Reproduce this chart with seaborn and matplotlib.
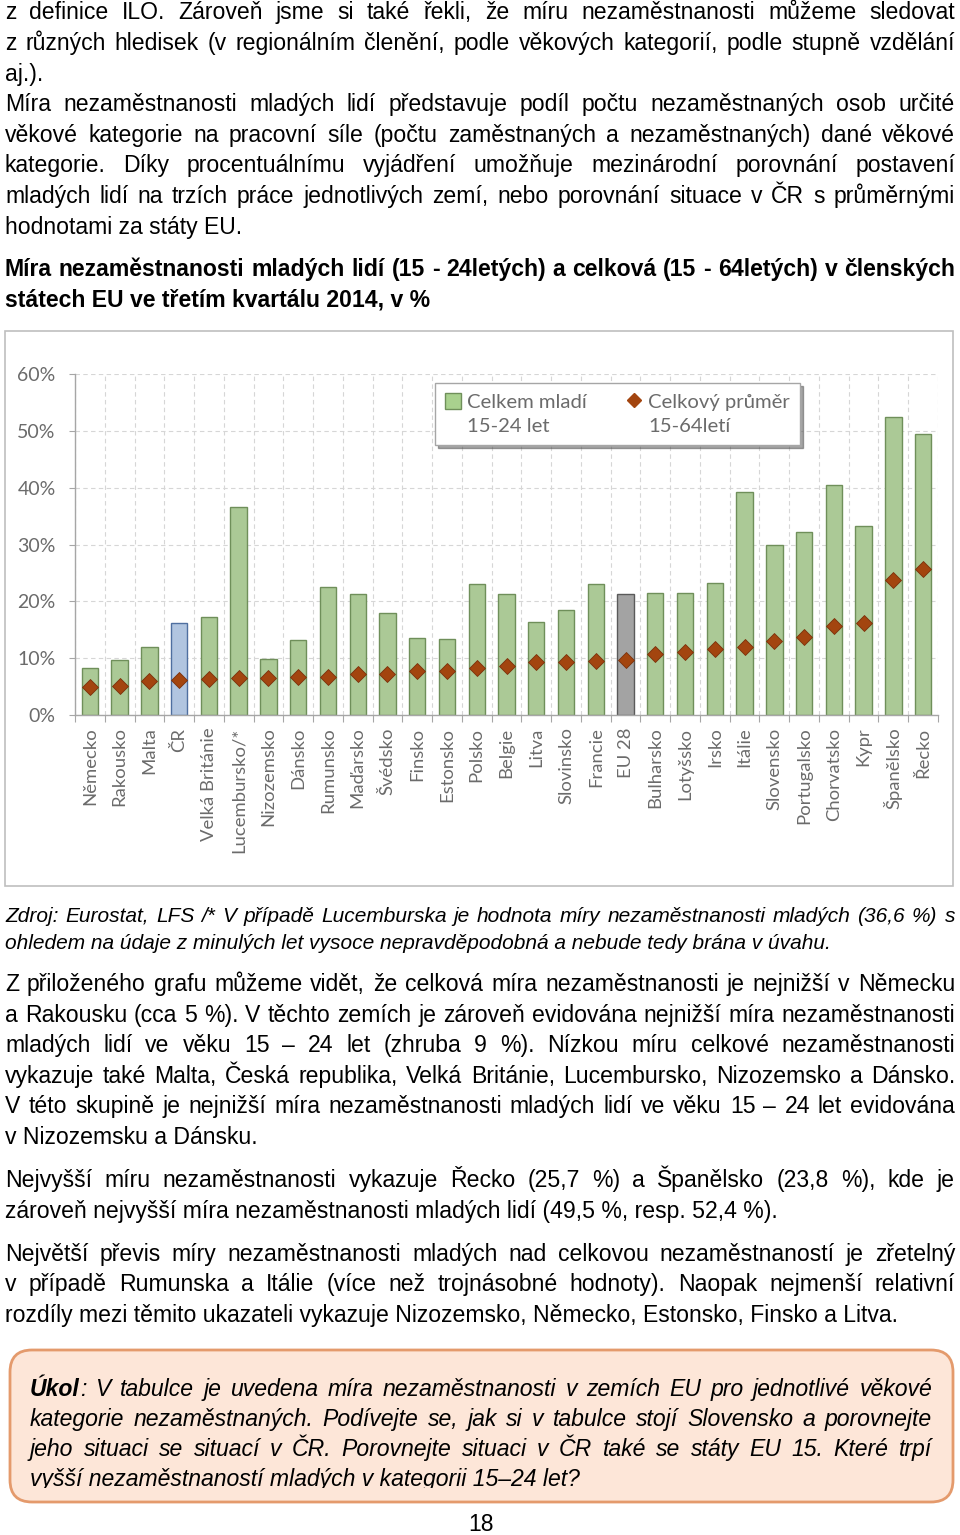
import matplotlib
matplotlib.use("Agg")
import matplotlib.pyplot as plt
import seaborn as sns
from matplotlib.patches import Patch, Rectangle, FancyBboxPatch
from matplotlib.lines import Line2D

W, H = 960, 1535

# chart data (Q3 2014, %)
countries = ["Německo", "Rakousko", "Malta", "ČR", "Velká Británie", "Lucembursko/*",
             "Nizozemsko", "Dánsko", "Rumunsko", "Maďarsko", "Švédsko", "Finsko",
             "Estonsko", "Polsko", "Belgie", "Litva", "Slovinsko", "Francie", "EU 28",
             "Bulharsko", "Lotyšsko", "Irsko", "Itálie", "Slovensko", "Portugalsko",
             "Chorvatsko", "Kypr", "Španělsko", "Řecko"]
young = [8.3, 9.6, 12.0, 16.2, 17.3, 36.6, 9.8, 13.2, 22.5, 21.3, 18.0, 13.6,
         13.4, 23.1, 21.3, 16.4, 18.4, 23.1, 21.3, 21.4, 21.4, 23.3, 39.2, 29.9,
         32.2, 40.4, 33.3, 52.4, 49.5]
overall = [4.9, 5.1, 5.9, 6.1, 6.3, 6.5, 6.5, 6.7, 6.7, 7.3, 7.3, 7.7,
           7.7, 8.3, 8.7, 9.3, 9.3, 9.5, 9.7, 10.7, 11.0, 11.6, 12.0, 13.0,
           13.8, 15.7, 16.1, 23.8, 25.7]
yticks = [0, 10, 20, 30, 40, 50, 60]
legend_main = ["Celkem mladí", "Celkový průměr"]
legend_sub = ["15-24 let", "15-64letí"]

# page text: (line, justified, baseline y in px)
top_lines = [
    ("z definice ILO. Zároveň jsme si také řekli, že míru nezaměstnanosti můžeme sledovat", True, 19),
    ("z různých hledisek (v regionálním členění, podle věkových kategorií, podle stupně vzdělání", True, 50),
    ("aj.).", False, 81),
    ("Míra nezaměstnanosti mladých lidí představuje podíl počtu nezaměstnaných osob určité", True, 111),
    ("věkové kategorie na pracovní síle (počtu zaměstnaných a nezaměstnaných) dané věkové", True, 142),
    ("kategorie. Díky procentuálnímu vyjádření umožňuje mezinárodní porovnání postavení", True, 172),
    ("mladých lidí na trzích práce jednotlivých zemí, nebo porovnání situace v ČR s průměrnými", True, 203),
    ("hodnotami za státy EU.", False, 234),
]
title_lines = [
    ("Míra nezaměstnanosti mladých lidí (15 - 24letých) a celková (15 - 64letých) v členských", True, 276),
    ("státech EU ve třetím kvartálu 2014, v %", False, 306),
]
source_lines = [
    ("Zdroj: Eurostat, LFS /* V případě Lucemburska je hodnota míry nezaměstnanosti mladých (36,6 %) s", True, 922),
    ("ohledem na údaje z minulých let vysoce nepravděpodobná a nebude tedy brána v úvahu.", False, 949),
]
body_lines = [
    ("Z přiloženého grafu můžeme vidět, že celková míra nezaměstnanosti je nejnižší v Německu", True, 991),
    ("a Rakousku (cca 5 %). V těchto zemích je zároveň evidována nejnižší míra nezaměstnanosti", True, 1022),
    ("mladých lidí ve věku 15 – 24 let (zhruba 9 %). Nízkou míru celkové nezaměstnanosti", True, 1052),
    ("vykazuje také Malta, Česká republika, Velká Británie, Lucembursko, Nizozemsko a Dánsko.", True, 1083),
    ("V této skupině je nejnižší míra nezaměstnanosti mladých lidí ve věku 15 – 24 let evidována", True, 1113),
    ("v Nizozemsku a Dánsku.", False, 1144),
    ("Nejvyšší míru nezaměstnanosti vykazuje Řecko (25,7 %) a Španělsko (23,8 %), kde je", True, 1187),
    ("zároveň nejvyšší míra nezaměstnanosti mladých lidí (49,5 %, resp. 52,4 %).", False, 1218),
    ("Největší převis míry nezaměstnanosti mladých nad celkovou nezaměstnaností je zřetelný", True, 1261),
    ("v případě Rumunska a Itálie (více než trojnásobné hodnoty). Naopak nejmenší relativní", True, 1291),
    ("rozdíly mezi těmito ukazateli vykazuje Nizozemsko, Německo, Estonsko, Finsko a Litva.", False, 1322),
]
task_lines = [
    ("V tabulce je uvedena míra nezaměstnanosti v zemích EU pro jednotlivé věkové", True, 1396),
    ("kategorie nezaměstnaných.  Podívejte se, jak si v tabulce stojí Slovensko a porovnejte", True, 1426),
    ("jeho situaci se situací v ČR. Porovnejte situaci v ČR také se státy  EU 15. Které trpí", True, 1456),
    ("vyšší nezaměstnaností mladých v kategorii 15–24 let?", False, 1486),
]

sns.set_style("white")
plt.rcParams["font.family"] = ["Liberation Sans", "DejaVu Sans"]

fig = plt.figure(figsize=(W / 100, H / 100), dpi=100)
pg = fig.add_axes([0, 0, 1, 1])
pg.set_xlim(0, W)
pg.set_ylim(H, 0)
pg.axis("off")
pg.set_zorder(0)
r = fig.canvas.get_renderer()


def put_line(words, y, x0, x1, justify, clip=None, **kw):
    # words: list of words, each a list of (text, extra kwargs) segments
    objs = []
    widths = []
    for i, w in enumerate(words):
        segs = []
        ww = 0
        for j, (txt, extra) in enumerate(w):
            if not justify and j == len(w) - 1 and i < len(words) - 1:
                txt = txt + " "
            t = pg.text(0, y, txt, va="baseline", ha="left", **kw, **extra)
            if clip is not None:
                t.set_clip_on(True)
                t.set_clip_path(clip)
            sw = t.get_window_extent(r).width
            segs.append((t, sw))
            ww += sw
        objs.append(segs)
        widths.append(ww)
    if justify and len(words) > 1:
        gap = (x1 - x0 - sum(widths)) / (len(words) - 1)
    else:
        gap = 0
    x = x0
    for segs, ww in zip(objs, widths):
        xx = x
        for t, sw in segs:
            t.set_x(xx)
            xx += sw
        x += ww + gap


def words_of(s, justify):
    if justify:
        return [[(w, {})] for w in s.split()]
    return [[(s, {})]]


body_font = ["Liberation Sans", "DejaVu Sans"]
for s, j, y in top_lines + body_lines:
    put_line(words_of(s, j), y, 5, 955, j, fontsize=16.6, family=body_font, color="black")
for s, j, y in title_lines:
    put_line(words_of(s, j), y, 5, 955, j, fontsize=16.6, family=body_font,
             color="black", weight="bold")
for s, j, y in source_lines:
    put_line(words_of(s, j), y, 5, 955, j, fontsize=15, family=body_font,
             color="black", style="italic")

# outer frame of the chart
pg.add_patch(Rectangle((5, 331), 948, 555, facecolor="white", edgecolor="#bfbfbf", lw=1.2))

# task box
pg.add_patch(FancyBboxPatch((10, 1350), 943, 152, boxstyle="round,pad=0,rounding_size=22",
                            facecolor="#fde6d8", edgecolor="#e49a6c", lw=2))
clip_rect = Rectangle((0, 0), W, 1488, transform=pg.transData)
narrow = ["Liberation Sans Narrow", "Liberation Sans"]
for i, (s, j, y) in enumerate(task_lines):
    words = words_of(s, j)
    if i == 0:
        words = [[("Úkol", {"weight": "bold"}), (":", {})]] + words
    put_line(words, y, 30, 932, j, clip=clip_rect, fontsize=16.6, family=narrow,
             style="italic", color="black")

pg.text(481, 1531, "18", ha="center", va="baseline", fontsize=16.6, family=narrow, color="black")

# chart
chart_font = ["Lato", "DejaVu Sans"]
grey_txt = "#6b6b6b"
ax = fig.add_axes([75 / W, 1 - 715 / H, 863 / W, 341 / H])
ax.set_zorder(2)
ax.set_facecolor("white")

face = {c: "#a9d18e" for c in countries}
face["ČR"] = "#a9c4e8"
face["EU 28"] = "#a3a3a3"
edge = {c: "#6f8f5a" for c in countries}
edge["ČR"] = "#4f6fa0"
edge["EU 28"] = "#5a5a5a"

sns.barplot(x=countries, y=young, hue=countries, palette=face, legend=False,
            width=0.55, ax=ax, zorder=2)
for bar, c in zip(ax.patches, countries):
    bar.set_edgecolor(edge[c])
    bar.set_linewidth(1.0)

sns.pointplot(x=countries, y=overall, color="#a3450f", markers="D", linestyles="none",
              errorbar=None, markersize=8, markeredgecolor="#7a300a", markeredgewidth=0.6,
              ax=ax, zorder=4)

ax.set_xlim(-0.5, len(countries) - 0.5)
ax.set_ylim(0, 60)
ax.set_yticks(yticks)
ax.set_yticklabels([f"{v}%" for v in yticks], family=chart_font)
ax.set_xticks(range(len(countries)))
ax.set_xticklabels(countries, rotation=90, family=chart_font)
ax.set_xticks([k - 0.5 for k in range(len(countries) + 1)], minor=True)
ax.tick_params(axis="y", which="major", length=4, width=0.8, color="#a6a6a6",
               labelcolor=grey_txt, labelsize=14, pad=10, left=True)
ax.tick_params(axis="x", which="major", length=0, labelcolor=grey_txt, labelsize=13.3, pad=9)
ax.tick_params(axis="x", which="minor", length=5, width=0.8, color="#a6a6a6",
               direction="out", bottom=True)
ax.grid(False)
ax.grid(axis="y", which="major", ls=(0, (4, 3)), color="#d6d6d6", lw=0.8, zorder=0)
ax.grid(axis="x", which="minor", ls=(0, (4, 3)), color="#d6d6d6", lw=0.8, zorder=0)
ax.set_axisbelow(True)
for side in ["top", "right"]:
    ax.spines[side].set_visible(False)
for side in ["left", "bottom"]:
    ax.spines[side].set_color("#a6a6a6")
    ax.spines[side].set_linewidth(1.0)
ax.set_xlabel("")
ax.set_ylabel("")

# legend: marker on the first line, second line of each label indented under it
blank = Patch(facecolor="none", edgecolor="none")
handles = [Patch(facecolor="#a9d18e", edgecolor="#6f8f5a"), blank,
           Line2D([], [], marker="D", ls="none", color="#a3450f", markersize=7), blank]
labels = [legend_main[0], legend_sub[0], legend_main[1], legend_sub[1]]
leg = ax.legend(handles, labels, ncol=2, loc="upper left",
                bbox_to_anchor=(0.417, 0.974), frameon=True, shadow=True, fancybox=False,
                edgecolor="#a6a6a6", prop={"family": chart_font, "size": 14.6},
                labelcolor=grey_txt, handlelength=0.8, handleheight=0.8,
                handletextpad=0.3, columnspacing=1.9, borderpad=0.5, borderaxespad=0,
                labelspacing=0.3)
leg.get_frame().set_linewidth(1.0)

fig.savefig("out.png", dpi=100)
